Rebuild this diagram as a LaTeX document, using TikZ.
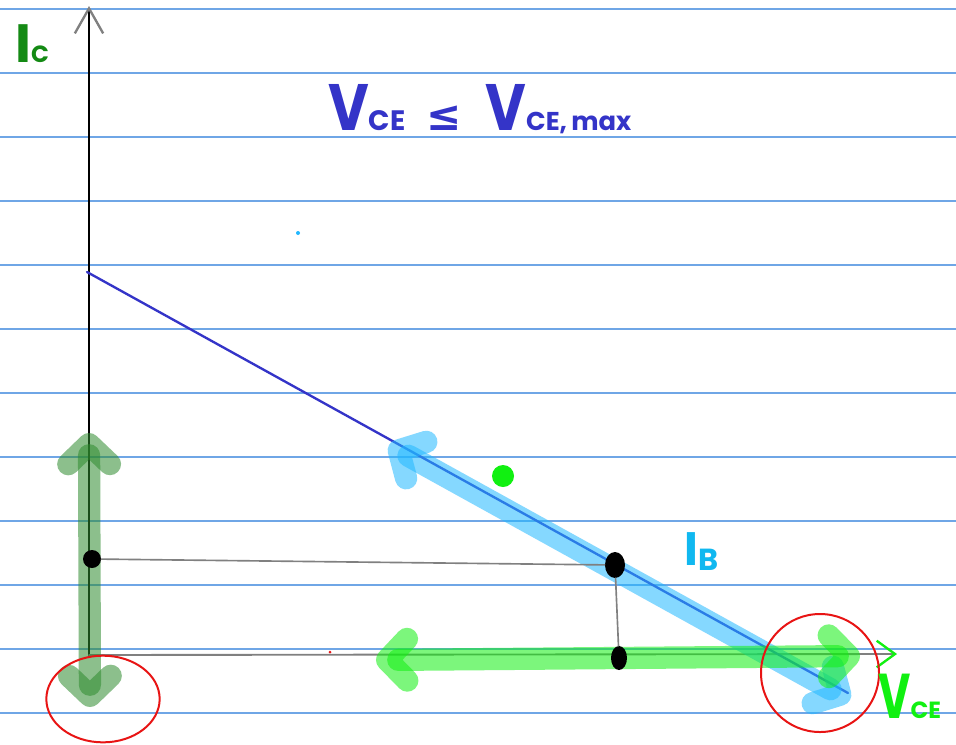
\documentclass[tikz,border=0pt]{standalone}
\usepackage{fontspec}
\setmainfont{Poppins}
\newfontfamily\symfont{DejaVu Sans}
\usetikzlibrary{arrows.meta, positioning, shapes.geometric, calc}
\definecolor{cpaper}{HTML}{6FA6E6}
\definecolor{cgrey}{HTML}{808080}
\definecolor{cload}{HTML}{3434C8}
\definecolor{csky}{HTML}{22B8FF}
\definecolor{cdark}{HTML}{2E8B2E}
\definecolor{clime}{HTML}{11F011}
\definecolor{cic}{HTML}{148A14}
\definecolor{cib}{HTML}{10B8F0}
\definecolor{cred}{HTML}{E81414}
\newcommand{\fsz}[1]{\fontsize{#1}{#1}\selectfont}
\tikzset{
  every picture/.style={x=0.03cm, y=-0.03cm, line cap=round, line join=round},
  ruling/.style={draw=cpaper, line width=0.9pt},
  axis/.style={draw=#1, line width=2pt},
  axis/.default=black,
  guide/.style={draw=cgrey, line width=1.4pt},
  band/.style={draw=#1, line width=19pt, draw opacity=0.55,
    {Straight Barb[round, length=0.6cm, width=1.25cm]}-{Straight Barb[round, length=0.6cm, width=1.25cm]}},
  dot/.style={ellipse, fill=#1, inner sep=0pt},
  dot/.default=black,
  ring/.style={draw=cred, ellipse, line width=1.7pt, inner sep=0pt},
  hand/.style={font=\bfseries, text=#1, inner sep=0pt, anchor=base west},
}

\begin{document}
\begin{tikzpicture}
  \useasboundingbox (0,0) rectangle (956,744);
  \fill[white] (0,0) rectangle (956,744);
  % ruled paper
  \foreach \y in {9,73,...,713} \draw[ruling] (0,\y) -- (956,\y);

  % axes
  \coordinate (o) at (89,655);
  \coordinate (ictop) at (89,6);
  \coordinate (vceend) at (897,654);
  \draw[axis, -{Straight Barb[length=0.75cm, width=0.85cm, color=cgrey]}] (o) -- (ictop);
  \draw[axis=cgrey, line width=1.6pt, -{Straight Barb[length=0.55cm, width=0.8cm, color=clime, line width=2pt]}] (o) -- (vceend);

  % load line
  \coordinate (lla) at (87,272);
  \coordinate (llb) at (848,693);
  \draw[cload, line width=2pt] (lla) -- (llb);

  % swing bands
  \coordinate (ica) at (90,707);
  \coordinate (icb) at (89,433);
  \coordinate (iba) at (850,700);
  \coordinate (ibb) at (389,445);
  \coordinate (vcea) at (860,656);
  \coordinate (vceb) at (376,660);
  \draw[band=cdark] (ica) -- (icb);
  \draw[band=csky] (iba) -- (ibb);
  \draw[band=clime] (vcea) -- (vceb);

  % operating point and projections
  \node[dot, minimum width=0.54cm, minimum height=0.54cm] (qc) at (92,559) {};
  \node[dot, minimum width=0.6cm, minimum height=0.78cm] (q) at (615,565) {};
  \node[dot, minimum width=0.48cm, minimum height=0.72cm] (qv) at (619,658) {};
  \draw[guide] (qc) -- (q);
  \draw[guide] (q) -- (qv);

  % marks
  \node[dot=clime, minimum size=0.66cm] (gdot) at (503,476) {};
  \node[dot=csky, minimum size=0.12cm] (cdot) at (298,233) {};
  \node[dot=cred, minimum size=0.09cm] (rdot) at (330,652) {};
  \node[ring, minimum width=3.4cm, minimum height=2.6cm] (satmark) at (103,699) {};
  \node[ring, minimum width=3.54cm, minimum height=3.54cm] (cutmark) at (820,673) {};

  % labels
  \node[hand=cic] (iclab) at (15,62) {{\fsz{46}I}{\fsz{20}C}};
  \node[hand=cload] (cond) at (328,130) {{\fsz{56}\scalebox{0.85}[1]{V}}{\fsz{24}CE}\hspace{18pt}{\symfont\fsz{36}≤}\hspace{20pt}{\fsz{56}\scalebox{0.85}[1]{V}}{\fsz{22}CE,\,max}};
  \node[hand=cib] (iblab) at (684,565) {{\fsz{40}I}\raisebox{-5pt}{\fsz{26}B}};
  \node[hand=clime] (vcelab) at (878,718) {{\fsz{54}\scalebox{0.7}[1]{V}}{\fsz{20}CE}};
\end{tikzpicture}
\end{document}
